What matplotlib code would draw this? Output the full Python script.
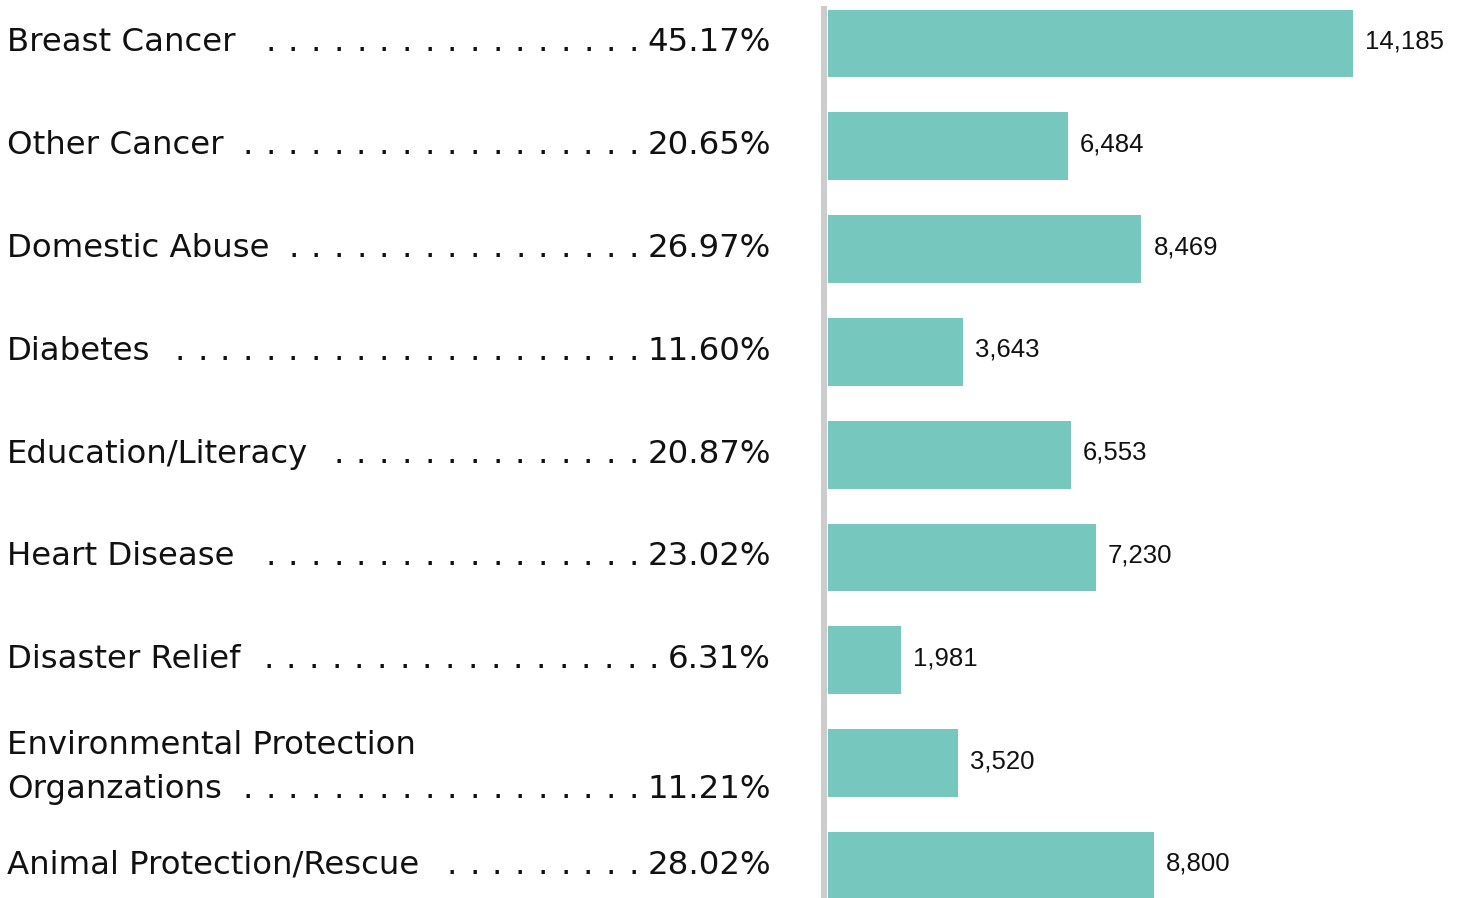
import matplotlib
matplotlib.use("Agg")
import matplotlib.pyplot as plt
from matplotlib.transforms import blended_transform_factory

categories = ["Breast Cancer", "Other Cancer", "Domestic Abuse", "Diabetes",
              "Education/Literacy", "Heart Disease", "Disaster Relief",
              "Environmental Protection\nOrganzations", "Animal Protection/Rescue"]
percents = [45.17, 20.65, 26.97, 11.60, 20.87, 23.02, 6.31, 11.21, 28.02]
counts = [14185, 6484, 8469, 3643, 6553, 7230, 1981, 3520, 8800]

W, H = 1463, 898
PX = 102.8  # pixels per row

fig = plt.figure(figsize=(W / 100, H / 100), dpi=100)
ax = fig.add_axes([828 / W, 0, (W - 828) / W, 1])
rows = list(range(len(counts)))
ax.barh(rows, counts, height=0.66, color="#76C7BD")
ax.set_xlim(0, (W - 828) / (525 / 14185))
ax.set_ylim((H - 43.5) / PX, -43.5 / PX)
for s in ["top", "right", "bottom"]:
    ax.spines[s].set_visible(False)
ax.spines["left"].set_position(("outward", 2.9))
ax.spines["left"].set_linewidth(4.3)
ax.spines["left"].set_color("#CCCCCC")
ax.spines["left"].set_bounds(-34.5 / PX, (H - 43.5) / PX)
ax.set_xticks([])
ax.set_yticks([])

for i, v in enumerate(counts):
    ax.annotate(f"{v:,}", xy=(v, i), xytext=(12 * 0.72, -5 * 0.72),
                textcoords="offset points", ha="left", va="baseline",
                fontsize=18.5, family="Liberation Sans", color="#111111")

trans = blended_transform_factory(fig.transFigure, ax.transData)
r = fig.canvas.get_renderer()
fs = 23.3
for i, (cat, p) in enumerate(zip(categories, percents)):
    lines = cat.split("\n")
    if len(lines) > 1:
        fig.text(7 / W, i - 9 / PX, lines[0], transform=trans, fontsize=fs,
                 va="baseline", ha="left", color="#111111")
        yb = i + 35 / PX
    else:
        yb = i + 8 / PX
    t = fig.text(7 / W, yb, lines[-1], transform=trans, fontsize=fs,
                 va="baseline", ha="left", color="#111111")
    pt = fig.text(771 / W, yb, f"{p:.2f}%", transform=trans, fontsize=fs,
                  va="baseline", ha="right", color="#111111")
    x_lab = t.get_window_extent(renderer=r).x1
    x = pt.get_window_extent(renderer=r).x0 - 14
    while x >= x_lab + 20:
        fig.text(x / W, yb, ".", transform=trans, fontsize=fs,
                 va="baseline", ha="center", color="#111111")
        x -= 22.7

fig.savefig("out.png", dpi=100)
